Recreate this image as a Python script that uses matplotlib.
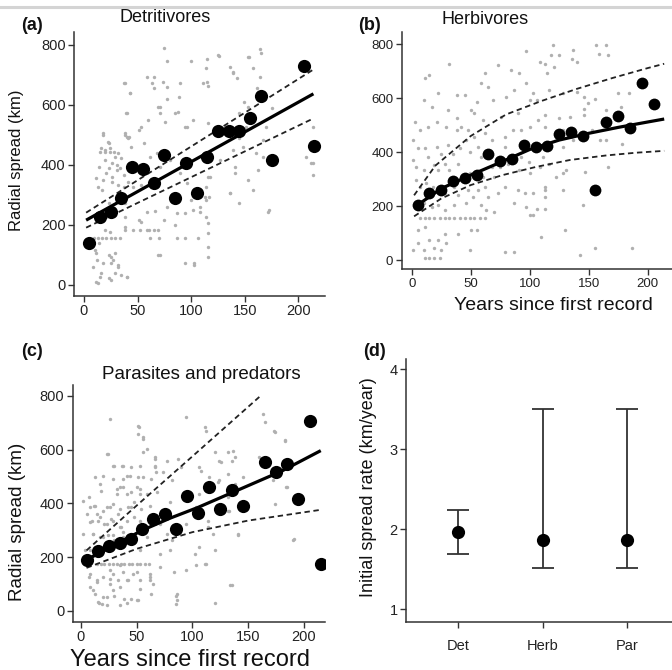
import matplotlib.pyplot as plt
from matplotlib.lines import Line2D

plt.rcParams['font.family'] = ['Liberation Sans', 'DejaVu Sans']

W, H = 672, 670

# ---- (a) detritivores ----
det_bin_x = [5, 15, 25, 35, 45, 55, 65, 75, 85, 95, 105, 115, 125, 135, 145, 155, 165, 175, 205, 215]
det_bin_y = [140, 228, 243, 290, 392, 385, 340, 433, 290, 405, 305, 428, 512, 512, 512, 558, 630, 415, 730, 463]
det_fit_x = [2, 214]
det_fit_y = [216, 637]
det_hi_y = [241, 718]
det_lo_y = [191, 555]
det_sp_x = [75, 77, 100, 126, 164, 165, 153, 115, 136, 139, 143, 114, 115, 111, 116, 59, 65, 65, 74, 77,
            90, 37, 43, 39, 69, 71, 85, 77, 89, 102, 96, 60, 53, 38, 40, 18, 22, 24, 16, 28,
            32, 35, 20, 14, 23, 31, 37, 11, 18, 26, 41, 46, 53, 56, 62, 68, 71, 80, 90, 96,
            105, 114, 117, 108, 114, 102, 87, 75, 65, 59, 53, 46, 38, 9, 13, 17, 21, 25, 29, 34,
            62, 70, 87, 94, 106, 71, 94, 11, 14, 8, 16, 11, 13, 25, 29, 25, 32, 35, 40, 25,
            29, 18, 103, 116, 116, 116, 116, 114, 116, 127, 139, 145, 141, 136, 145, 158, 162, 160, 167, 167,
            170, 148, 151, 158, 173, 214, 214, 207, 145, 153, 164, 161, 38, 41, 20, 44,
            18, 23, 15, 20, 24, 29, 26, 31, 34, 21, 26, 13, 17, 32, 37, 38, 23, 18, 29, 38,
            20, 24, 38, 51, 59, 66, 77, 52, 61, 69, 85, 94, 100, 10, 12, 23, 27, 32, 40, 15,
            23, 69, 103, 38, 43, 63, 71, 88, 76, 94, 40, 51, 42,
            125, 154, 139, 158, 175, 149, 116, 141, 153, 136, 172, 108, 214, 212, 118, 113]
det_sp_y = [791, 748, 748, 764, 786, 772, 761, 754, 728, 708, 691, 722, 678, 674, 663, 692, 694, 656, 678, 659,
            674, 672, 639, 572, 594, 572, 574, 619, 628, 550, 528, 550, 528, 506, 494, 500, 478, 456, 456, 444,
            439, 422, 417, 394, 389, 383, 367, 356, 350, 344, 344, 328, 333, 472, 428, 439, 394, 417, 372, 339,
            317, 328, 294, 261, 228, 250, 239, 217, 183, 183, 211, 183, 183, 156, 156, 156, 156, 156, 156, 156,
            156, 156, 156, 156, 156, 100, 72, 106, 139, 61, 39, 11, 8, 17, 39, 72, 61, 33, 28, 94,
            106, 72, 67, 94, 128, 172, 206, 283, 361, 417, 450, 489, 394, 306, 272, 317, 383, 439, 428, 483,
            528, 461, 528, 561, 250, 406, 367, 428, 572, 594, 694, 656, 500, 489, 444, 461,
            505, 472, 444, 450, 444, 428, 406, 400, 389, 372, 361, 328, 317, 333, 328, 272, 272, 244, 233, 228,
            183, 178, 194, 217, 242, 246, 261, 183, 183, 183, 200, 239, 283, 117, 83, 100, 83, 67, 28, 28,
            22, 100, 72, 672, 639, 672, 594, 578, 544, 528, 572, 517, 494,
            767, 761, 711, 722, 589, 611, 539, 372, 350, 306, 244, 244, 528, 406, 361, 294]

# ---- (b) herbivores ----
herb_bin_x = [5, 15, 25, 35, 45, 55, 65, 75, 85, 95, 105, 115, 125, 135, 145, 155, 165, 175, 185, 195, 205]
herb_bin_y = [204, 247, 260, 293, 305, 315, 392, 367, 376, 425, 420, 423, 466, 474, 459, 258, 511, 535, 490, 657, 580]
herb_fit_x = [2, 25, 50, 75, 100, 125, 150, 175, 200, 214]
herb_fit_y = [195, 265, 315, 362, 410, 445, 470, 492, 512, 523]
herb_hi_x = [2, 20, 50, 80, 110, 140, 170, 200, 214]
herb_hi_y = [240, 350, 460, 540, 590, 635, 675, 712, 728]
herb_lo_x = [2, 25, 50, 77, 105, 134, 165, 190, 214]
herb_lo_y = [162, 228, 278, 315, 345, 371, 388, 398, 405]
herb_sp_x = [97, 32, 11, 15, 62, 73, 84, 91, 59, 65, 22, 38, 45, 55, 69, 80, 87, 97, 100, 10,
             17, 31, 50, 53, 60, 76, 90, 3, 7, 14, 21, 29, 38, 38, 42, 48, 53, 62, 68, 79,
             86, 93, 100, 1, 5, 11, 14, 21, 25, 31, 35, 41, 46, 49, 56, 59, 68, 79, 93, 99,
             1, 4, 10, 19, 22, 28, 32, 39, 43, 49, 60, 68, 70, 75, 82, 91, 100, 4, 7, 12,
             18, 25, 28, 36, 39, 48, 52, 56, 62, 65, 73, 79, 90, 96, 3, 10, 17, 22, 28, 36,
             46, 59, 63, 70, 87, 97, 7, 11, 15, 19, 24, 28, 32, 36, 41, 45, 49, 53, 58, 62,
             5, 11, 28, 39, 50, 55, 15, 22, 29, 5, 1, 10, 19, 25, 11, 15, 19, 24, 49, 79,
             87, 120, 165, 166, 118, 125, 137, 109, 113, 140, 115, 121, 103, 106, 116, 128, 140, 146, 155, 175,
             184, 146, 149, 107, 113, 125, 134, 146, 165, 177, 113, 128, 137, 153, 160, 165, 178, 106, 111, 116,
             128, 131, 109, 147, 166, 122, 128, 103, 113, 113, 113, 113, 128, 145, 106, 103, 100, 130, 110, 143,
             155, 187, 156, 159, 136]
herb_sp_y = [776, 729, 674, 686, 692, 723, 705, 692, 655, 643, 618, 612, 612, 587, 593, 605, 630, 655, 593, 593,
             568, 556, 556, 544, 519, 531, 544, 513, 482, 494, 513, 494, 525, 482, 494, 482, 457, 470, 445, 457,
             482, 482, 494, 445, 414, 414, 383, 420, 395, 426, 395, 414, 445, 401, 420, 383, 389, 420, 383, 364,
             370, 346, 333, 352, 333, 358, 333, 358, 309, 321, 309, 346, 309, 346, 358, 333, 321, 296, 272, 284,
             272, 272, 247, 272, 241, 259, 235, 259, 272, 235, 247, 272, 259, 247, 198, 210, 198, 204, 185, 204,
             210, 204, 185, 179, 210, 198, 155, 155, 155, 155, 155, 155, 155, 155, 155, 155, 155, 155, 155, 155,
             110, 122, 98, 98, 110, 110, 74, 74, 62, 62, 37, 37, 43, 37, 6, 6, 6, 6, 37, 31,
             31, 797, 797, 760, 760, 760, 779, 736, 729, 736, 692, 717, 618, 593, 630, 618, 624, 605, 599, 618,
             618, 562, 581, 519, 537, 525, 531, 537, 556, 568, 494, 482, 445, 482, 445, 445, 432, 420, 383, 358,
             420, 333, 346, 327, 346, 309, 321, 247, 272, 259, 235, 191, 259, 204, 191, 167, 167, 111, 86, 18,
             43, 43, 797, 766, 744]

# ---- (c) parasites and predators ----
par_bin_x = [5, 15, 25, 35, 45, 55, 65, 75, 85, 95, 105, 115, 125, 135, 145, 165, 175, 185, 195, 205, 215]
par_bin_y = [190, 222, 240, 252, 268, 303, 340, 361, 305, 429, 363, 460, 380, 451, 392, 555, 518, 546, 417, 705, 176]
par_fit_x = [5, 30, 55, 80, 105, 130, 155, 180, 215]
par_fit_y = [190, 245, 300, 345, 385, 430, 475, 520, 596]
par_hi_x = [5, 50, 100, 160]
par_hi_y = [225, 392, 575, 796]
par_lo_x = [5, 50, 100, 150, 215]
par_lo_y = [160, 231, 293, 336, 376]
par_sp_x = [26, 52, 56, 94, 111, 112, 24, 59, 30, 37, 41, 44, 53, 56, 50, 53, 66, 66, 67, 77,
            87, 90, 82, 106, 136, 138, 124, 115, 124, 133, 145, 160, 163, 173, 183, 184, 190, 133, 141, 134,
            106, 103, 94, 114, 118, 106, 112, 103, 94, 85, 85, 120, 120, 71, 65, 80, 82, 77, 59, 71,
            8, 13, 14, 17, 10, 20, 23, 26, 29, 33, 36, 41, 45, 48, 53, 32, 35, 41, 17, 13,
            7, 2, 5, 2, 4, 11, 17, 24, 30, 38, 45, 59, 65, 14, 18, 21, 25, 29, 32, 36,
            39, 43, 46, 50, 53, 57, 61, 8, 14, 20, 26, 29, 35, 41, 47, 53, 8, 13, 16, 19,
            23, 30, 35, 41, 50, 63, 62, 71, 53,
            51, 51, 56, 23, 56, 66, 66, 29, 38, 45, 20, 29, 38, 51, 63, 74, 18, 32, 38, 45,
            53, 59, 68, 12, 23, 29, 35, 42, 48, 54, 62, 80, 8, 15, 21, 27, 35, 11, 20, 29,
            38, 17, 8, 35, 26, 38, 50, 62, 7, 14, 26, 33, 42, 53, 62, 11, 20, 29, 39, 45,
            51, 15, 23, 86, 86, 83,
            165, 174, 183, 120, 132, 135, 126, 108, 132, 123, 138, 172, 185, 132, 174, 132, 114, 141, 191, 102,
            111, 135]
par_sp_y = [713, 685, 645, 720, 682, 670, 583, 602, 538, 540, 503, 503, 538, 497, 460, 435, 571, 534, 515, 559,
            565, 534, 485, 534, 596, 571, 559, 497, 485, 460, 497, 571, 732, 670, 635, 460, 262, 373, 287, 95,
            435, 386, 324, 312, 287, 237, 175, 169, 151, 54, 25, 31, 225, 163, 101, 225, 262, 287, 274, 324,
            386, 392, 361, 349, 336, 373, 324, 386, 336, 361, 312, 336, 386, 349, 336, 435, 460, 435, 472, 497,
            423, 410, 361, 287, 225, 287, 274, 281, 262, 274, 287, 312, 336, 175, 175, 175, 175, 175, 175, 175,
            175, 175, 175, 175, 175, 175, 175, 138, 114, 126, 101, 138, 89, 114, 138, 114, 89, 64, 30, 27,
            52, 54, 21, 30, 40, 64, 138, 213, 225,
            689, 658, 639, 584, 590, 565, 540, 540, 540, 534, 503, 491, 491, 497, 491, 516, 447, 454, 460, 441,
            454, 435, 441, 392, 386, 398, 380, 386, 404, 380, 392, 404, 330, 336, 324, 343, 312, 287, 275, 281,
            293, 238, 225, 170, 151, 145, 145, 127, 127, 108, 120, 114, 114, 83, 114, 77, 52, 77, 46, 46,
            40, 34, 22, 64, 40, 145,
            701, 664, 633, 590, 590, 559, 553, 522, 510, 479, 473, 485, 460, 423, 398, 373, 336, 281, 269, 213,
            176, 95]

# ---- (d) initial spread rate ----
groups = ['Det', 'Herb', 'Par']
rate = [1.96, 1.86, 1.86]
rate_lo = [1.69, 1.51, 1.51]
rate_hi = [2.24, 3.50, 3.50]


def box(left, top, right, bottom):
    return [left / W, 1 - bottom / H, (right - left) / W, (bottom - top) / H]


def put(fig, x, y, s, **kw):
    fig.text(x / W, 1 - y / H, s, ha='center', va='center', color='#111111', **kw)


def style(ax, size):
    for side in ('top', 'right'):
        ax.spines[side].set_visible(False)
    for side in ('left', 'bottom'):
        ax.spines[side].set_linewidth(1.1)
        ax.spines[side].set_color('#333333')
    ax.tick_params(direction='out', length=4, width=1, color='#333333',
                   labelsize=size, labelcolor='#222222', pad=2)


def spread_panel(ax, gx, gy, bx, by, fx, fy, hx, hy, lx, ly, ms):
    ax.scatter(gx, gy, s=6, color='#b0b0b0', linewidths=0, zorder=1)
    ax.plot(fx, fy, color='black', lw=2.3, solid_capstyle='butt', zorder=3)
    ax.plot(hx, hy, color='#222222', lw=1.3, ls=(0, (3, 2)), zorder=3)
    ax.plot(lx, ly, color='#222222', lw=1.3, ls=(0, (3, 2)), zorder=3)
    ax.plot(bx, by, 'o', color='black', ms=ms, mew=0, zorder=4)
    ax.set_xticks([0, 50, 100, 150, 200])
    ax.set_yticks([0, 200, 400, 600, 800])


fig = plt.figure(figsize=(W / 100, H / 100), dpi=100)

# (a)
ax_a = fig.add_axes(box(74, 32, 325, 296))
spread_panel(ax_a, det_sp_x, det_sp_y, det_bin_x, det_bin_y,
             det_fit_x, det_fit_y, det_fit_x, det_hi_y, det_fit_x, det_lo_y, 9.5)
ax_a.set_xlim(-9.3, 224.8)
ax_a.set_ylim(-36.7, 843)
style(ax_a, 10.5)
put(fig, 32, 25, '(a)', fontsize=13, fontweight='bold')
put(fig, 165, 18, 'Detritivores', fontsize=13)
put(fig, 17, 160, 'Radial spread (km)', fontsize=12, rotation=90)

# (b)
ax_b = fig.add_axes(box(401.7, 31.7, 680, 269.3))
spread_panel(ax_b, herb_sp_x, herb_sp_y, herb_bin_x, herb_bin_y,
             herb_fit_x, herb_fit_y, herb_hi_x, herb_hi_y, herb_lo_x, herb_lo_y, 8.5)
ax_b.set_xlim(-8.5, 227.4)
ax_b.set_ylim(-34.5, 847)
style(ax_b, 9.5)
put(fig, 369, 25, '(b)', fontsize=13, fontweight='bold')
put(fig, 485, 19, 'Herbivores', fontsize=13)
put(fig, 553, 305, 'Years since first record', fontsize=14)

# (c)
ax_c = fig.add_axes(box(72.7, 385, 325, 621.7))
spread_panel(ax_c, par_sp_x, par_sp_y, par_bin_x, par_bin_y,
             par_fit_x, par_fit_y, par_hi_x, par_hi_y, par_lo_x, par_lo_y, 9.5)
ax_c.set_xlim(-7.4, 218.8)
ax_c.set_ylim(-40, 840)
style(ax_c, 10.5)
put(fig, 32, 352, '(c)', fontsize=13, fontweight='bold')
put(fig, 201, 375, 'Parasites and predators', fontsize=13.5)
put(fig, 18, 522, 'Radial spread (km)', fontsize=13.5, rotation=90)
put(fig, 190, 660, 'Years since first record', fontsize=17)

# (d)
ax_d = fig.add_axes(box(406, 359, 679, 622))
pos = [1, 2, 3]
err_lo = [r - lo for r, lo in zip(rate, rate_lo)]
err_hi = [hi - r for r, hi in zip(rate, rate_hi)]
ax_d.errorbar(pos, rate, yerr=[err_lo, err_hi], fmt='none', ecolor='#333333',
              elinewidth=1.3, capsize=8, capthick=1.3, zorder=2)
ax_d.plot(pos, rate, 'o', color='black', ms=9.5, mew=0, zorder=3)
ax_d.set_xlim(0.38, 3.62)
ax_d.set_ylim(0.84, 4.13)
ax_d.set_xticks(pos)
ax_d.set_xticklabels(groups)
ax_d.set_yticks([1, 2, 3, 4])
style(ax_d, 10.5)
ax_d.tick_params(axis='x', pad=8)
put(fig, 374, 352, '(d)', fontsize=13, fontweight='bold')
put(fig, 368, 487, 'Initial spread rate (km/year)', fontsize=13, rotation=90)

# thin grey rule across the top
fig.add_artist(Line2D([0, 1], [1 - 6.5 / H] * 2, color='#d4d4d4', lw=2.2))

fig.savefig('out.png', dpi=100)
